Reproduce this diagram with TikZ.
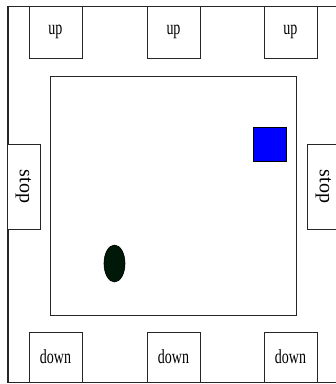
\documentclass[tikz,border=0pt]{standalone}
\usepackage{fontspec}
\setmainfont{Liberation Serif}
\newfontfamily\btnfont[FakeStretch=0.7]{Liberation Serif}
\usetikzlibrary{shapes.geometric}
\definecolor{padblue}{RGB}{0,0,255}
\definecolor{ballgreen}{RGB}{0,24,8}

\begin{document}
\begin{tikzpicture}[
  x=1pt, y=-1pt,
  button/.style={rectangle, draw=black!85, line width=1pt, fill=white, inner sep=0pt, minimum width=53pt, minimum height=#1, font=\btnfont\fontsize{20}{20}\selectfont},
  sidebutton/.style={rectangle, draw=black!85, line width=1pt, fill=white, inner sep=0pt, minimum width=33pt, minimum height=85pt, font=\fontsize{20}{20}\selectfont},
  frame/.style={draw=black!85, line width=1pt},
]
\useasboundingbox (0,0) rectangle (336,384);

% outer frame and field
\draw[frame] (8,6) rectangle (340,382);
\node[rectangle, frame, inner sep=0pt, minimum width=246pt, minimum height=239pt] (field) at (173,195.5) {};

% buttons
\node[button=52pt] (upa) at (55.5,32) {up};
\node[button=52pt] (upb) at (173.5,32) {up};
\node[button=52pt] (upc) at (290.5,32) {up};
\node[button=50pt] (downa) at (55.5,357) {down};
\node[button=50pt] (downb) at (173.5,357) {down};
\node[button=50pt] (downc) at (290.5,357) {down};
\node[sidebutton] (stopl) at (23.5,186.5) {\rotatebox{-90}{stop}};
\node[sidebutton] (stopr) at (323.5,186.5) {\rotatebox{-90}{stop}};

% paddle and ball
\node[rectangle, draw=black, line width=0.8pt, fill=padblue, minimum width=33pt, minimum height=34pt] (paddle) at (269.5,144) {};
\node[ellipse, draw=black, line width=0.6pt, fill=ballgreen, minimum width=21pt, minimum height=37pt, inner sep=0pt] (ball) at (114.5,263.5) {};
\end{tikzpicture}
\end{document}
